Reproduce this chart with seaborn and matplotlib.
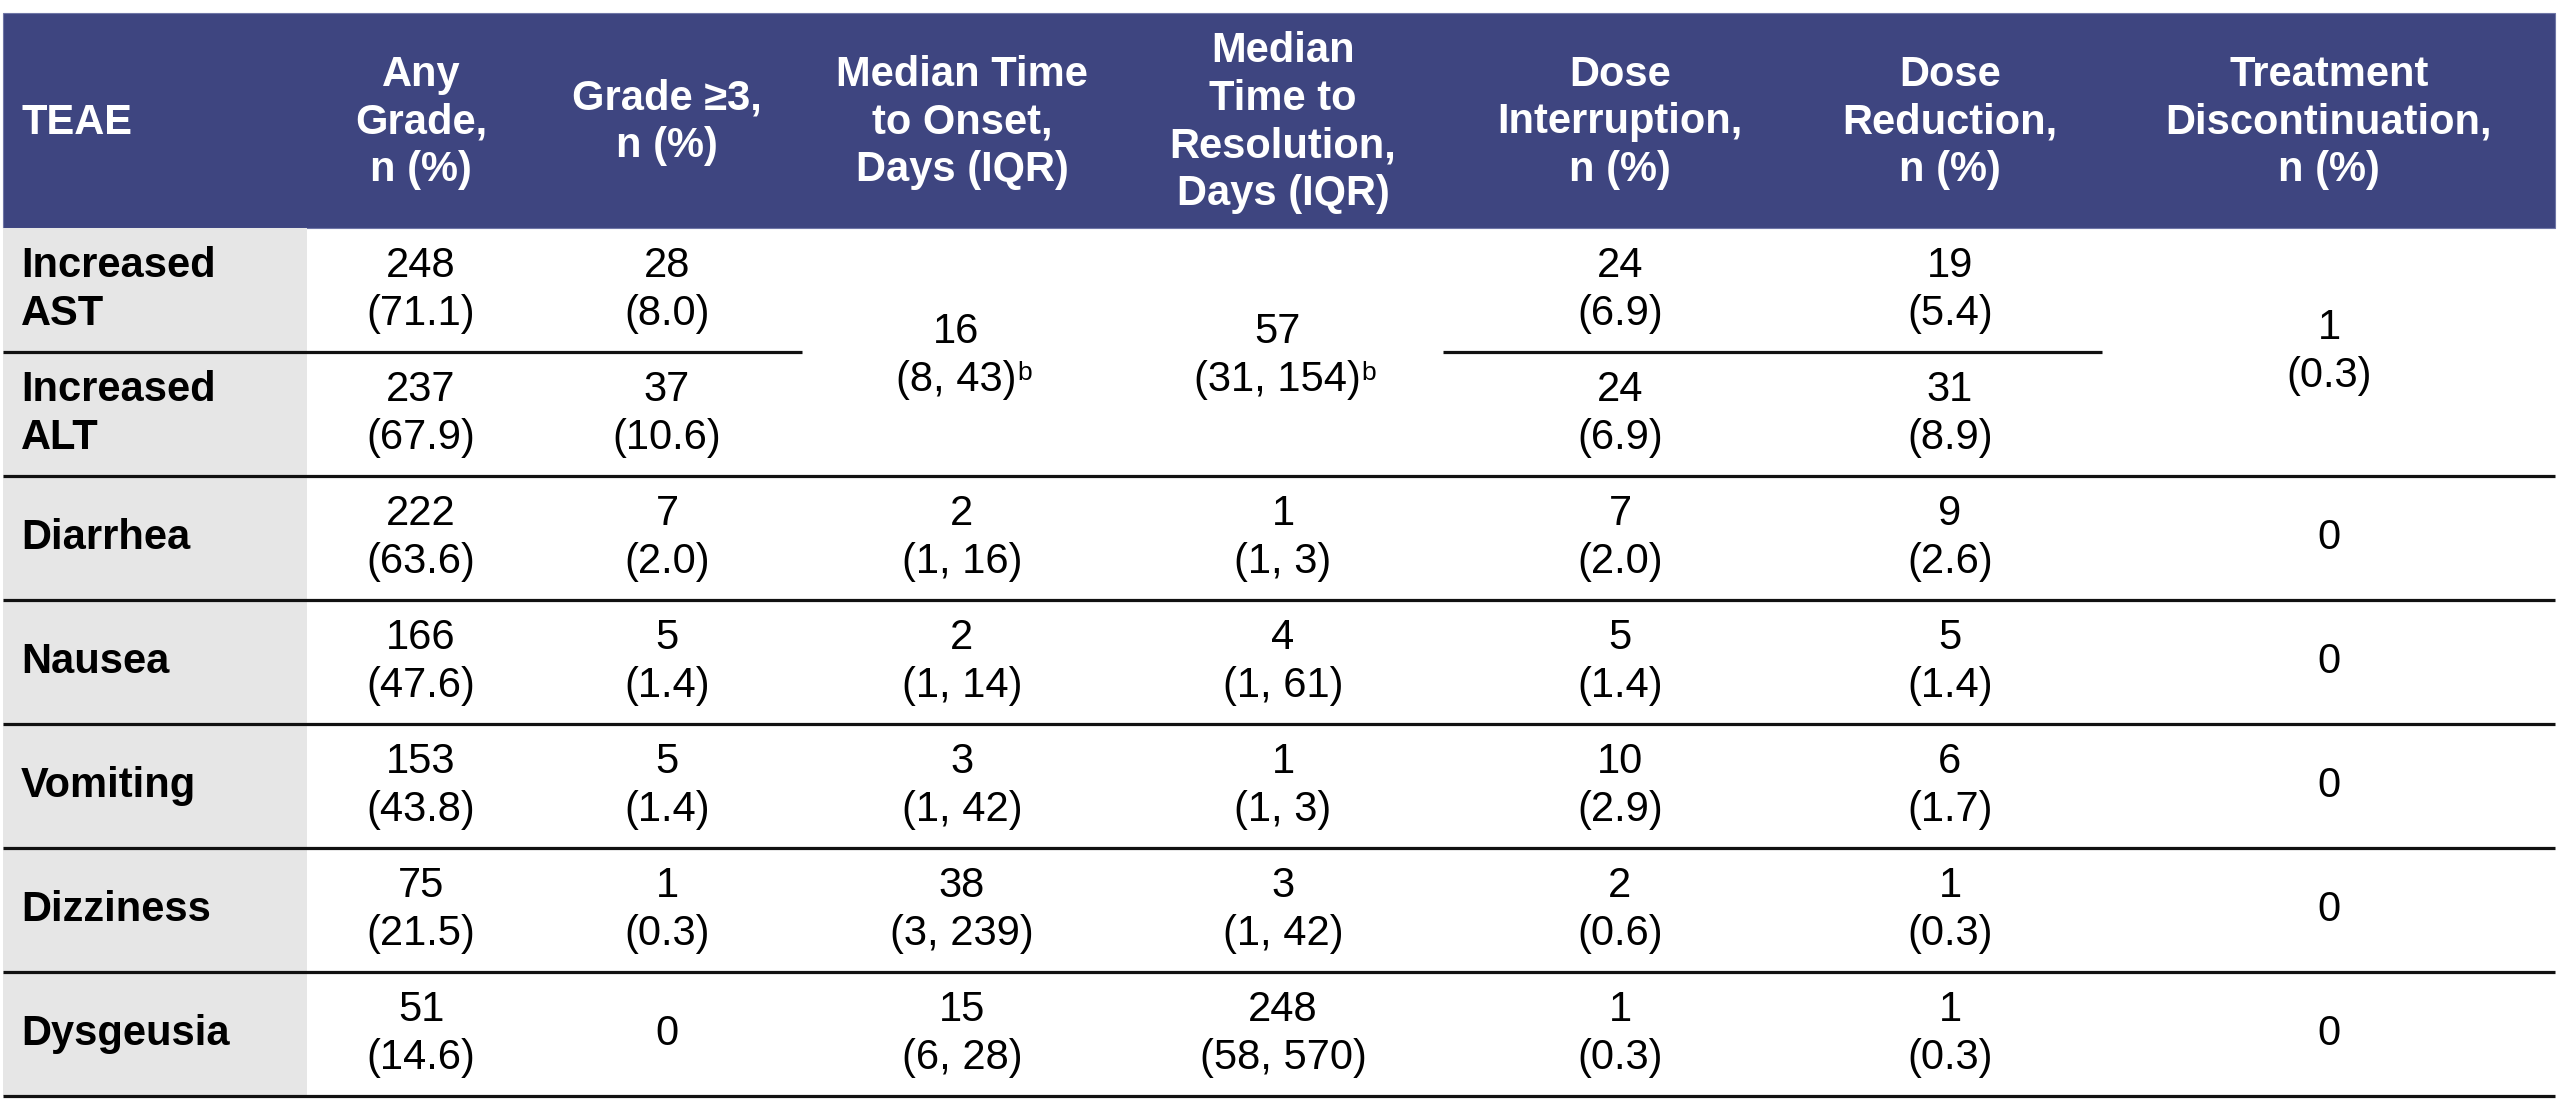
import matplotlib
matplotlib.use("Agg")
import matplotlib.pyplot as plt
from matplotlib.patches import Rectangle
import seaborn as sns

# ---- table content ----
headers = ["TEAE", "Any\nGrade,\nn (%)", "Grade ≥3,\nn (%)",
           "Median Time\nto Onset,\nDays (IQR)",
           "Median\nTime to\nResolution,\nDays (IQR)",
           "Dose\nInterruption,\nn (%)", "Dose\nReduction,\nn (%)",
           "Treatment\nDiscontinuation,\nn (%)"]
teae = ["Increased\nAST", "Increased\nALT", "Diarrhea", "Nausea",
        "Vomiting", "Dizziness", "Dysgeusia"]
any_n = [248, 237, 222, 166, 153, 75, 51]
any_pct = [71.1, 67.9, 63.6, 47.6, 43.8, 21.5, 14.6]
g3_n = [28, 37, 7, 5, 5, 1, 0]
g3_pct = [8.0, 10.6, 2.0, 1.4, 1.4, 0.3, 0.0]
# AST and ALT share one cell in onset, resolution and discontinuation
onset_med = [16, 2, 2, 3, 38, 15]
onset_q1 = [8, 1, 1, 1, 3, 6]
onset_q3 = [43, 16, 14, 42, 239, 28]
resol_med = [57, 1, 4, 1, 3, 248]
resol_q1 = [31, 1, 1, 1, 1, 58]
resol_q3 = [154, 3, 61, 3, 42, 570]
interr_n = [24, 24, 7, 5, 10, 2, 1]
interr_pct = [6.9, 6.9, 2.0, 1.4, 2.9, 0.6, 0.3]
reduc_n = [19, 31, 9, 5, 6, 1, 1]
reduc_pct = [5.4, 8.9, 2.6, 1.4, 1.7, 0.3, 0.3]
disc_n = [1, 0, 0, 0, 0, 0]
disc_pct = [0.3, 0.0, 0.0, 0.0, 0.0, 0.0]
footnote_b = [True, False, False, False, False, False]

sns.set_theme(style="white")
plt.rcParams['font.family'] = ['Liberation Sans', 'DejaVu Sans']

HEAD = '#3e4580'
GREY = '#e6e6e6'
FS = 30
LS = 1.24


def n_pct(n, p):
    return "0" if n == 0 else f"{n}\n({p:.1f})"


def med_iqr(m, a, b):
    return f"{m}\n({a}, {b})"


def cell(x, y, s, **kw):
    opts = dict(fontsize=FS, ha='center', va='center', multialignment='center',
                linespacing=LS, color='black')
    opts.update(kw)
    return ax.text(x, y, s, **opts)


def add_sup(t, s='b'):
    # small superscript glued to the right end of the last line
    ax.annotate(s, xy=(1, 0), xycoords=t, xytext=(1, 14),
                textcoords='offset points', fontsize=19,
                ha='left', va='baseline', color='black')


fig = plt.figure(figsize=(25.6, 11.12), dpi=100)
ax = fig.add_axes([0, 0, 1, 1])
ax.set_xlim(0, 2560)
ax.set_ylim(1112, 0)
ax.axis('off')

# layout (pixels)
col_x = [21, 421, 667, 962, 1283, 1620, 1950, 2329]
tab_left, tab_right = 3, 2555
head_top, head_bot = 13, 228
row_h = 124
sup_shift = 6  # footnoted cells are centred with the superscript included


def row_mid(i, span=1):
    return head_bot + row_h * (i + span / 2)


# header band and label column
ax.add_patch(Rectangle((tab_left, head_top), tab_right - tab_left, head_bot - head_top,
                       facecolor=HEAD, edgecolor='#6f76a6', lw=0.8))
ax.add_patch(Rectangle((tab_left, head_bot), 307 - tab_left, row_h * len(teae),
                       facecolor=GREY, edgecolor='none'))

for j, h in enumerate(headers):
    cell(col_x[j], (head_top + head_bot) / 2 + 2, h, color='white',
         fontweight='bold', ha='left' if j == 0 else 'center',
         multialignment='left' if j == 0 else 'center')

# row labels + per-row columns
for i, name in enumerate(teae):
    y = row_mid(i)
    cell(col_x[0], y, name, fontweight='bold', ha='left', multialignment='left')
    cell(col_x[1], y, n_pct(any_n[i], any_pct[i]))
    cell(col_x[2], y, n_pct(g3_n[i], g3_pct[i]))
    cell(col_x[5], y, n_pct(interr_n[i], interr_pct[i]))
    cell(col_x[6], y, n_pct(reduc_n[i], reduc_pct[i]))

# merged columns: first entry covers AST + ALT
for e in range(len(onset_med)):
    y = row_mid(0, span=2) if e == 0 else row_mid(e + 1)
    dx = -sup_shift if footnote_b[e] else 0
    dy = 4 if footnote_b[e] else 0
    t1 = cell(col_x[3] + dx, y + dy, med_iqr(onset_med[e], onset_q1[e], onset_q3[e]))
    t2 = cell(col_x[4] + dx, y + dy, med_iqr(resol_med[e], resol_q1[e], resol_q3[e]))
    if footnote_b[e]:
        add_sup(t1)
        add_sup(t2)
    cell(col_x[7], y, n_pct(disc_n[e], disc_pct[e]))

# rules
rule = dict(color='#111111', lw=2.3)
y_split = head_bot + row_h
ax.hlines(y_split, tab_left, 802, **rule)
ax.hlines(y_split, 1443, 2102, **rule)
for k in range(2, len(teae) + 1):
    ax.hlines(head_bot + row_h * k, tab_left, tab_right, **rule)

fig.savefig('out.png', dpi=100, facecolor='white')
